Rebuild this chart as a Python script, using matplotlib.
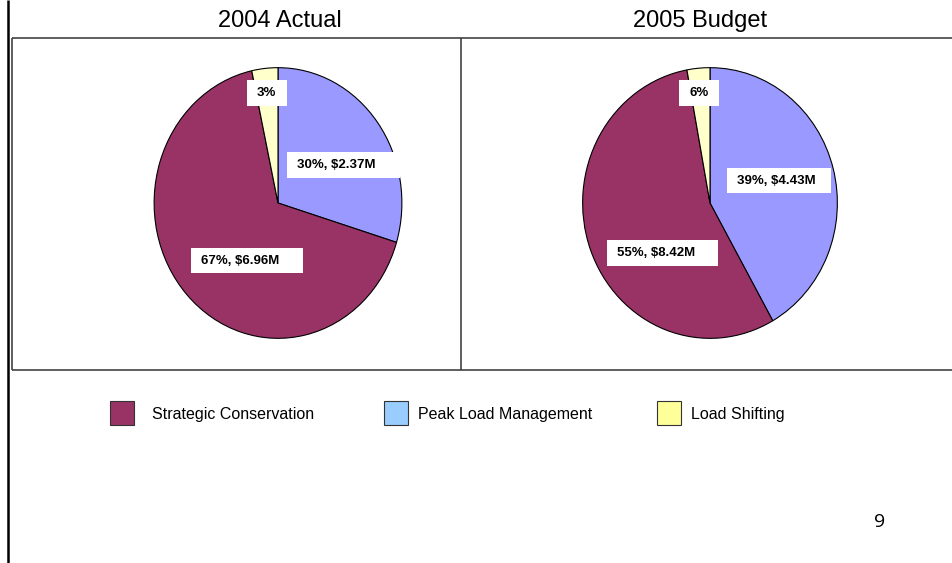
import matplotlib
matplotlib.use("Agg")
import matplotlib.pyplot as plt
from matplotlib.patches import Rectangle

# --------------------------
# Data
# --------------------------
categories = ["Strategic Conservation", "Peak Load Management", "Load Shifting"]
titles = ["2004 Actual", "2005 Budget"]

# slice sizes in %, order: Strategic, Peak, Shifting
share_2004 = [66.9, 29.7, 3.4]
share_2005 = [55.3, 41.8, 2.9]

labels_2004 = ["67%, $6.96M", "30%, $2.37M", "3%"]
labels_2005 = ["55%, $8.42M", "39%, $4.43M", "6%"]

pie_colors = ["#993366", "#9999FF", "#FFFFCC"]
legend_colors = ["#993366", "#99CCFF", "#FFFF99"]
page_number = "9"

# --------------------------
# Layout (pixels, origin top-left)
# --------------------------
W, H = 952, 563
FONT = ["Liberation Sans", "DejaVu Sans"]

# pie ellipses: centre x, centre y, radius x, radius y
pie_boxes = [(278, 203, 124.5, 136), (710, 203, 128, 136)]
title_x = [280, 700]
# label box: left, top, width, height (same order as labels)
label_boxes = [
    [(191, 248, 112, 25), (287, 152, 113, 26), (247, 80, 40, 26)],
    [(607, 240, 111, 26), (727, 168, 104, 25), (679, 80, 40, 26)],
]
legend_marker_x = [110, 384, 657]
legend_text_x = [152, 418, 691]


def to_fig(x0, y0, w, h):
    return [x0 / W, 1 - (y0 + h) / H, w / W, h / H]


fig = plt.figure(figsize=(W / 100, H / 100), dpi=100)

# frames and static text
bg = fig.add_axes([0, 0, 1, 1])
bg.set_xlim(0, W)
bg.set_ylim(H, 0)
bg.axis("off")

bg.plot([8, 8], [0, H], color="black", lw=1.8, solid_capstyle="butt")
frame = dict(color="#333333", lw=1.1, solid_capstyle="butt")
bg.plot([11.5, W], [37.5, 37.5], **frame)
bg.plot([11.5, W], [370, 370], **frame)
bg.plot([11.5, 11.5], [37.5, 370], **frame)
bg.plot([460.5, 460.5], [37.5, 370], **frame)

for x, t in zip(title_x, titles):
    bg.text(x, 21, t, ha="center", va="center", fontsize=17, family=FONT)

for mx, tx, c, name in zip(legend_marker_x, legend_text_x, legend_colors, categories):
    bg.add_patch(Rectangle((mx, 401), 24, 24, facecolor=c, edgecolor="#333333", lw=0.8))
    bg.text(tx, 414.5, name, ha="left", va="center", fontsize=11.5, family=FONT)

bg.text(880, 522, page_number, ha="center", va="center", fontsize=14,
        family=["Open Sans", "DejaVu Sans"])

# --------------------------
# Pies
# --------------------------
for (cx, cy, rx, ry), share in zip(pie_boxes, [share_2004, share_2005]):
    ax = fig.add_axes(to_fig(cx - rx, cy - ry, 2 * rx, 2 * ry))
    vals = [share[1], share[0], share[2]]
    cols = [pie_colors[1], pie_colors[0], pie_colors[2]]
    ax.pie(vals, colors=cols, startangle=90, counterclock=False, radius=1,
           wedgeprops=dict(edgecolor="black", linewidth=0.8))
    ax.set_aspect("auto")
    ax.set_xlim(-1.005, 1.005)
    ax.set_ylim(-1.005, 1.005)
    ax.axis("off")

# --------------------------
# Data labels on top
# --------------------------
top = fig.add_axes([0, 0, 1, 1])
top.set_xlim(0, W)
top.set_ylim(H, 0)
top.axis("off")
for boxes, labels in zip(label_boxes, [labels_2004, labels_2005]):
    for (x0, y0, w, h), lab in zip(boxes, labels):
        top.add_patch(Rectangle((x0, y0), w, h, facecolor="white", edgecolor="none"))
        top.text(x0 + 10, y0 + h / 2, lab, ha="left", va="center", fontsize=9.5,
                 fontweight="bold", family=FONT)

fig.savefig("out.png", dpi=100)
